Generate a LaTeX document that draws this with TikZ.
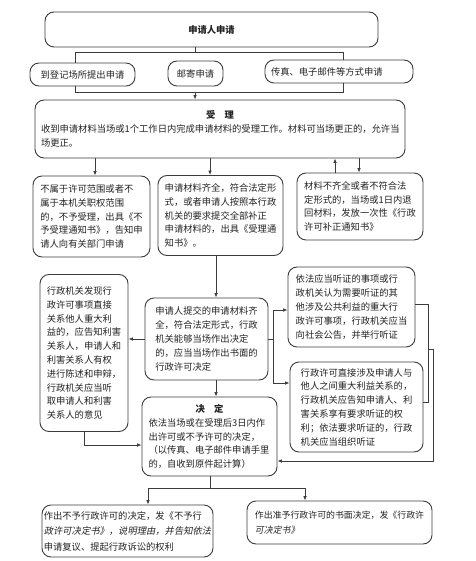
\documentclass[tikz,border=0pt]{standalone}
\usepackage{fontspec}
\setmainfont{Noto Sans CJK SC}
\newfontfamily\cjkslant[FakeSlant=0.2]{Noto Sans CJK SC}
\usetikzlibrary{arrows.meta}
\definecolor{lc}{HTML}{3C3C3C}
\definecolor{tc}{HTML}{222222}
\begin{document}
\begin{tikzpicture}[x=1pt,y=-1pt,
  font=\fontsize{9.3}{13.8}\selectfont,
  bx/.style={draw=lc, line width=0.9pt, rounded corners=9pt, align=left, inner sep=0pt, text=tc},
  ln/.style={draw=lc, line width=0.8pt},
  ar/.style={draw=lc, line width=0.8pt, -{Latex[length=4.5pt,width=3.6pt]}}]
\useasboundingbox (0,0) rectangle (475,561);

% boxes
\node[bx, minimum width=333pt, minimum height=35pt, align=center] (top) at (211.5,29.5) {\bfseries 申请人申请};
\node[bx, minimum width=105pt, minimum height=23pt] (reg1) at (82.5,74.5) {到登记场所提出申请};
\node[bx, minimum width=55pt, minimum height=25pt] (reg2) at (195.5,73.5) {邮寄申请};
\node[bx, minimum width=148pt, minimum height=23pt, text width=136pt] (reg3) at (339,71.5) {传真、电子邮件等方式申请};

\node[bx, minimum width=370pt, minimum height=58pt, text width=358pt] (sl) at (220,129)
  {\centerline{\bfseries 受\quad 理}\par 收到申请材料当场或1个工作日内完成申请材料的受理工作。材料可当场更正的，允许当\\场更正。};

\node[bx, minimum width=117pt, minimum height=81pt] (bA) at (91.5,216.5)
  {不属于许可范围或者不\\属于本机关职权范围\\的，不予受理，出具《不\\予受理通知书》，告知申\\请人向有关部门申请};
\node[bx, minimum width=125pt, minimum height=80pt] (bB) at (220.5,215.5)
  {申请材料齐全，符合法定形\\式，或者申请人按照本行政\\机关的要求提交全部补正\\申请材料的，出具《受理通\\知书》。};
\node[bx, minimum width=126pt, minimum height=67pt] (bC) at (360,206.5)
  {材料不齐全或者不符合法\\定形式的，当场或1日内退\\回材料，发放一次性《行政\\许可补正通知书》};

\node[bx, minimum width=123pt, minimum height=82pt] (bD) at (206.5,339)
  {申请人提交的申请材料齐\\全，符合法定形式，行政\\机关能够当场作出决定\\的，应当当场作出书面的\\行政许可决定};
\node[bx, minimum width=88pt, minimum height=157pt] (bE) at (84,353)
  {行政机关发现行\\政许可事项直接\\关系他人重大利\\益的，应告知利害\\关系人，申请人和\\利害关系人有权\\进行陈述和申辩，\\行政机关应当听\\取申请人和利害\\关系人的意见};
\node[bx, minimum width=127pt, minimum height=80pt] (bF) at (351.5,307)
  {依法应当听证的事项或行\\政机关认为需要听证的其\\他涉及公共利益的重大行\\政许可事项，行政机关应当\\向社会公告，并举行听证};
\node[bx, minimum width=133pt, minimum height=90pt] (bG) at (356.5,407)
  {行政许可直接涉及申请人与\\他人之间重大利益关系的，\\行政机关应告知申请人、利\\害关系享有要求听证的权\\利；依法要求听证的，行政\\机关应当组织听证};

\node[bx, minimum width=135pt, minimum height=79pt, text width=122pt] (bH) at (209.5,436.5)
  {\centerline{\bfseries 决\quad 定}\par 依法当场或在受理后3日内作\\出许可或不予许可的决定，\\（以传真、电子邮件申请手里\\的，自收到原件起计算）};

\node[bx, minimum width=171pt, minimum height=52pt, font=\fontsize{9.3}{15.5}\selectfont] (bI) at (127.5,531)
  {作出不予行政许可的决定，发《不予行\\{\cjkslant 政许可决定书》，说明理由，并告知依法}\\申请复议、提起行政诉讼的权利};
\node[bx, minimum width=185pt, minimum height=43pt, font=\fontsize{8.9}{15}\selectfont] (bJ) at (339.5,522.5)
  {作出准予行政许可的书面决定，发《行政许\\{\cjkslant 可决定书》}};

% connectors
\draw[ln] (195,0 |- top.south) -- (195,52);
\draw[ln] (75,0 |- reg1.north) -- (75,52) -- (343,52) -- (343,0 |- reg3.north);
\draw[ln] (75,0 |- reg1.south) -- (75,92) -- (343,92) -- (343,0 |- reg3.south);
\draw[ar] (195,92) -- (195,0 |- sl.north);
\draw[ar] (95,0 |- sl.south) -- (95,0 |- bA.north);
\draw[ar] (210,0 |- sl.south) -- (210,0 |- bB.north);
\draw[ar] (335,0 |- bC.north) -- (335,0 |- sl.south);
\draw[ar] (359,0 |- sl.south) -- (359,0 |- bC.north);
\draw[ar] (216,0 |- bB.south) -- (216,0 |- bD.north);
\draw[ar] (bD.west) -- (bE.east |- bD.west);
\draw[ln] (bD.east) -- (273,0 |- bD.east);
\draw[ln] (273,310) -- (273,383);
\draw[ar] (273,310) -- (bF.west |- 0,310);
\draw[ar] (273,383) -- (bG.west |- 0,383);
\draw[ln] (bF.east |- 0,304) -- (428,304) -- (428,402) -- (bG.east |- 0,402);
\draw[ln] (429,349) -- (433,349);
\draw[ar] (433,349) -- (433,461) -- (bH.east |- 0,461);
\draw[ar] (216,0 |- bD.south) -- (216,0 |- bH.north);
\draw[ar] (bE.south) -- (bE.south |- 0,445) -- (bH.west |- 0,445);
\draw[ln] (210,0 |- bH.south) -- (210,488);
\draw[ln] (148,488) -- (305,488);
\draw[ar] (148,488) -- (148,0 |- bI.north);
\draw[ar] (305,488) -- (305,0 |- bJ.north);
\end{tikzpicture}
\end{document}
